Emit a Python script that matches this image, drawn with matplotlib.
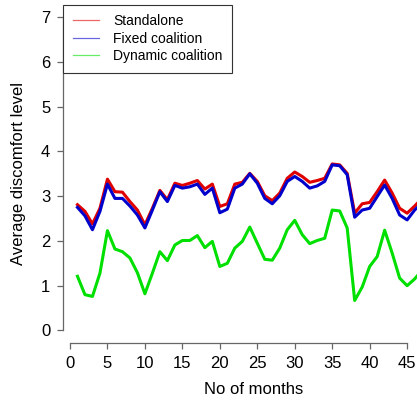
import matplotlib
matplotlib.use("Agg")
import matplotlib.pyplot as plt

plt.rcParams['font.family'] = ['Liberation Sans', 'DejaVu Sans']

# months 1..48 (only ~46 are visible in the crop)
months = list(range(1, 49))

standalone = [2.81, 2.66, 2.38, 2.73, 3.38, 3.10, 3.09, 2.88, 2.69, 2.36,
              2.73, 3.13, 2.92, 3.29, 3.24, 3.29, 3.35, 3.16, 3.27, 2.77,
              2.83, 3.27, 3.31, 3.51, 3.33, 3.01, 2.90, 3.07, 3.40, 3.54,
              3.44, 3.31, 3.35, 3.40, 3.72, 3.70, 3.51, 2.62, 2.83, 2.86,
              3.10, 3.36, 3.07, 2.73, 2.62, 2.78, 2.95, 3.00]
fixed = [2.75, 2.56, 2.25, 2.66, 3.27, 2.95, 2.95, 2.78, 2.58, 2.29,
         2.69, 3.10, 2.88, 3.24, 3.18, 3.21, 3.27, 3.04, 3.18, 2.63,
         2.71, 3.18, 3.27, 3.50, 3.29, 2.95, 2.83, 3.01, 3.33, 3.44,
         3.33, 3.18, 3.23, 3.33, 3.70, 3.68, 3.48, 2.53, 2.69, 2.73,
         2.99, 3.25, 2.95, 2.58, 2.47, 2.69, 2.85, 2.90]
dynamic = [1.21, 0.80, 0.76, 1.28, 2.23, 1.82, 1.76, 1.62, 1.29, 0.82,
           1.28, 1.76, 1.56, 1.91, 2.01, 2.01, 2.12, 1.85, 1.99, 1.43,
           1.50, 1.84, 1.99, 2.31, 1.95, 1.59, 1.57, 1.84, 2.25, 2.46,
           2.14, 1.94, 2.01, 2.06, 2.69, 2.67, 2.29, 0.67, 0.97, 1.43,
           1.65, 2.24, 1.73, 1.17, 1.00, 1.15, 1.35, 1.30]

xticks = [0, 5, 10, 15, 20, 25, 30, 35, 40, 45]
yticks = [0, 1, 2, 3, 4, 5, 6, 7]

fig = plt.figure(figsize=(4.17, 4.0), dpi=100)
ax = fig.add_axes([0.152, 0.1425, 0.912, 0.846])

ax.plot(months, standalone, color='#e00000', lw=2.2)
ax.plot(months, fixed, color='#0000cc', lw=2.2)
ax.plot(months, dynamic, color='#00e000', lw=2.2)

ax.set_xlim(-0.88, 49.88)
ax.set_ylim(-0.28, 7.28)
ax.set_xticks(xticks)
ax.set_yticks(yticks)

# R-like axes: lines only between first and last tick
for s in ['top', 'right']:
    ax.spines[s].set_visible(False)
ax.spines['left'].set_bounds(0, 7)
ax.spines['bottom'].set_bounds(0, 45)
for s in ['left', 'bottom']:
    ax.spines[s].set_color('#666666')
    ax.spines[s].set_linewidth(0.9)
ax.tick_params(direction='out', length=4.5, width=0.9, color='#666666',
               labelsize=12, pad=5)

ax.set_xlabel('No of months', fontsize=12, labelpad=8)
ax.set_ylabel('Average discomfort level', fontsize=12, labelpad=11)

# legend lines are thin and faint in the original
handles = [plt.Line2D([], [], color=c, lw=0.9, alpha=0.6)
           for c in ['#e00000', '#0000cc', '#00e000']]
leg = ax.legend(handles, ['Standalone', 'Fixed coalition', 'Dynamic coalition'],
                loc='upper left', bbox_to_anchor=(0, 1), borderaxespad=0,
                fontsize=10, handlelength=1.9, handletextpad=1.0,
                borderpad=0.7, labelspacing=0.25, fancybox=False,
                framealpha=1, edgecolor='#333333')
leg.get_frame().set_linewidth(0.8)

fig.savefig('out.png', dpi=100)
